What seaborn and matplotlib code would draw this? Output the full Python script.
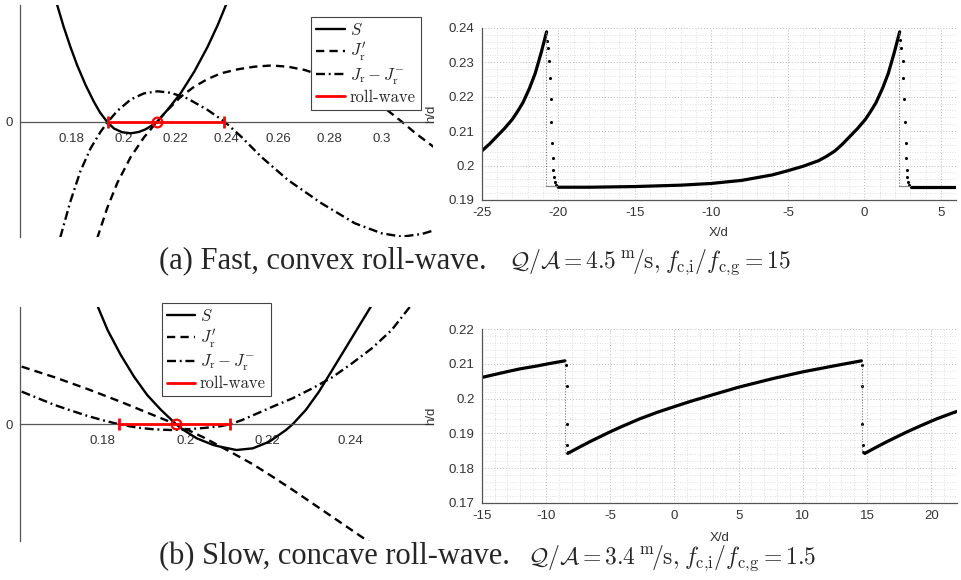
import matplotlib
matplotlib.use("Agg")
import matplotlib.pyplot as plt
from matplotlib.ticker import MultipleLocator
import seaborn as sns

sns.set_style("white")
plt.rcParams["font.family"] = ["Liberation Sans", "DejaVu Sans"]
plt.rcParams["mathtext.fontset"] = "cm"
plt.rcParams["axes.unicode_minus"] = False

# ---------------- (a) fast, convex roll-wave ----------------
# phase plane curves (vertical axis has no scale, only the zero line)
a_S_h = [0.1744, 0.1769, 0.1795, 0.1821, 0.1854, 0.1886, 0.1910, 0.1938, 0.1964, 0.1995, 0.2029,
         0.2060, 0.2085, 0.2108, 0.2130, 0.2171, 0.2223, 0.2275, 0.2327, 0.2366, 0.2398]
a_S_y = [1.17, 0.953, 0.753, 0.57, 0.37, 0.203, 0.095, 0.0, -0.065, -0.102, -0.113,
         -0.100, -0.075, -0.040, 0.0, 0.12, 0.29, 0.503, 0.753, 0.97, 1.17]
a_Jp_h = [0.1899, 0.1938, 0.1977, 0.2029, 0.2080, 0.2130, 0.2171, 0.2223, 0.2275, 0.2327, 0.2379, 0.2444,
          0.2508, 0.2573, 0.2638, 0.2703, 0.2742, 0.2807, 0.2872, 0.2936, 0.3014, 0.3079, 0.3131, 0.3208]
a_Jp_y = [-1.163, -0.859, -0.609, -0.349, -0.155, 0.0, 0.118, 0.253, 0.353, 0.43, 0.487, 0.527,
          0.553, 0.565, 0.553, 0.52, 0.487, 0.43, 0.355, 0.262, 0.137, 0.003, -0.11, -0.26]
a_J_h = [0.1756, 0.1795, 0.1834, 0.1873, 0.1912, 0.1940, 0.1977, 0.2029, 0.2080, 0.2133, 0.2184, 0.2249,
         0.2327, 0.2394, 0.2457, 0.2534, 0.2638, 0.2768, 0.2897, 0.3001, 0.3079, 0.3157, 0.3208]
a_J_y = [-1.155, -0.796, -0.492, -0.266, -0.098, 0.0, 0.111, 0.225, 0.286, 0.307, 0.292, 0.235,
         0.12, 0.0, -0.147, -0.347, -0.58, -0.813, -1.013, -1.113, -1.147, -1.12, -1.08]
a_roll = [0.1940, 0.2392]
a_crit = 0.2131

# wave profile h/d against X/d
a_w1_x = [-25, -24.5, -24, -23.5, -23, -22.67, -22.3, -21.87, -21.5, -21.1, -20.76]
a_w1_y = [0.2042, 0.2062, 0.2085, 0.2108, 0.2134, 0.2156, 0.2183, 0.2225, 0.2268, 0.2330, 0.2388]
a_w2_x = [-20.0, -18, -15, -12, -10, -8, -6, -5, -4, -3, -2.5, -1.94, -1.44, -0.94, -0.44,
          0.06, 0.39, 0.76, 1.19, 1.56, 1.96, 2.30]
a_w2_y = [0.1937, 0.1937, 0.1939, 0.1943, 0.1948, 0.1957, 0.1973, 0.1985, 0.1998, 0.2014, 0.2026, 0.2042,
          0.2062, 0.2085, 0.2108, 0.2134, 0.2156, 0.2183, 0.2225, 0.2268, 0.2330, 0.2388]
a_w3_x = [3.05, 6.0]
a_w3_y = [0.1937, 0.1937]
a_dots_x = [-20.72, -20.67, -20.61, -20.54, -20.50, -20.45, -20.41, -20.37, -20.32, -20.28, -20.24, -20.17,
            2.35, 2.41, 2.49, 2.54, 2.58, 2.63, 2.69, 2.71, 2.75, 2.80, 2.84, 2.91]
a_dots_y = [0.2362, 0.2340, 0.2304, 0.2253, 0.2192, 0.2127, 0.2066, 0.2021, 0.1987, 0.1968, 0.1953, 0.1943,
            0.2364, 0.2340, 0.2304, 0.2253, 0.2192, 0.2127, 0.2066, 0.2021, 0.1987, 0.1968, 0.1953, 0.1943]
a_shock_x = [-20.78, 2.27]
a_shock_end = [-20.1, 2.95]
a_shock_lo, a_shock_hi = 0.1941, 0.2388

# ---------------- (b) slow, concave roll-wave ----------------
b_S_h = [0.1788, 0.1812, 0.1844, 0.1876, 0.1908, 0.1940, 0.1978, 0.1996, 0.2028, 0.2068, 0.2084,
         0.2124, 0.2164, 0.2204, 0.2244, 0.2260, 0.2292, 0.2324, 0.2356, 0.2388, 0.2420, 0.2450]
b_S_y = [1.18, 0.943, 0.693, 0.477, 0.293, 0.15, 0.0, -0.057, -0.14, -0.207, -0.223,
         -0.257, -0.24, -0.173, -0.057, 0.0, 0.143, 0.327, 0.543, 0.76, 0.977, 1.18]
b_Jp_h = [0.1604, 0.1684, 0.1764, 0.1844, 0.1924, 0.1978, 0.2044, 0.2116, 0.2164, 0.2212, 0.2260,
          0.2308, 0.2356, 0.2404, 0.2450]
b_Jp_y = [0.577, 0.47, 0.352, 0.225, 0.09, 0.0, -0.13, -0.29, -0.40, -0.525, -0.655,
          -0.79, -0.925, -1.06, -1.19]
b_J_h = [0.1604, 0.1644, 0.1684, 0.1724, 0.1764, 0.1804, 0.1840, 0.1884, 0.1924, 0.1964, 0.2004, 0.2044,
         0.2084, 0.2108, 0.2136, 0.2164, 0.2212, 0.2260, 0.2308, 0.2356, 0.2404, 0.2452, 0.2500, 0.2545]
b_J_y = [0.327, 0.26, 0.193, 0.137, 0.083, 0.037, 0.0, -0.033, -0.05, -0.057, -0.05, -0.037,
         -0.02, 0.0, 0.04, 0.09, 0.177, 0.26, 0.36, 0.47, 0.61, 0.76, 0.943, 1.18]
b_roll = [0.1840, 0.2108]
b_crit = 0.1978

b_w1_x = [-15, -13.11, -12.0, -10.72, -9.6, -8.52]
b_w1_y = [0.2061, 0.2077, 0.2086, 0.2094, 0.2102, 0.2109]
b_w2_x = [-8.30, -7.5, -6.57, -5.02, -4.0, -2.68, -1.3, 0.0, 1.25, 2.51, 5.0, 7.69, 9.97, 12.36, 14.56]
b_w2_y = [0.1842, 0.1858, 0.1876, 0.1904, 0.1921, 0.1942, 0.1961, 0.1977, 0.1992, 0.2006, 0.2033, 0.2058,
          0.2077, 0.2094, 0.2109]
b_w3_x = [14.82, 15.62, 16.55, 18.10, 19.12, 20.44, 21.82, 22.0]
b_w3_y = [0.1842, 0.1858, 0.1876, 0.1904, 0.1921, 0.1942, 0.1961, 0.1963]
b_dots_x = [-8.44, -8.39, -8.36, -8.36, -8.31, 14.6, 14.62, 14.64, 14.65, 14.7]
b_dots_y = [0.2097, 0.2035, 0.1926, 0.1865, 0.1847, 0.2097, 0.2035, 0.1926, 0.1865, 0.1847]
b_shock_x = [-8.5, 14.58]
b_shock_lo, b_shock_hi = 0.1842, 0.2109

cap_a_text = "(a) Fast, convex roll-wave."
cap_a_math = r"$\mathcal{Q}/\mathcal{A}=4.5\,{}^{\mathrm{m}}\!/\mathrm{s}{,}\;f_{\mathrm{c{,}i}}/f_{\mathrm{c{,}g}}=15$"
cap_b_text = "(b) Slow, concave roll-wave."
cap_b_math = r"$\mathcal{Q}/\mathcal{A}=3.4\,{}^{\mathrm{m}}\!/\mathrm{s}{,}\;f_{\mathrm{c{,}i}}/f_{\mathrm{c{,}g}}=1.5$"

SPINE = "#555555"
LAB = "#333333"
DASH = (0, (3.5, 2.2))
DASHDOT = (0, (3.8, 1.6, 0.8, 1.6))


def phase_panel(ax, S, Jp, J, roll, crit, xlim, ylim, xticks, xlabels):
    sns.lineplot(x=S[0], y=S[1], sort=False, estimator=None, color="k", lw=1.7, ax=ax,
                 label=r"$S$", legend=False)
    sns.lineplot(x=Jp[0], y=Jp[1], sort=False, estimator=None, color="k", lw=1.7, linestyle=DASH,
                 ax=ax, label=r"$J_{\mathrm{r}}^{\prime}$", legend=False)
    sns.lineplot(x=J[0], y=J[1], sort=False, estimator=None, color="k", lw=1.7, linestyle=DASHDOT,
                 ax=ax, label=r"$J_{\mathrm{r}} - J_{\mathrm{r}}^{-}$", legend=False)
    sns.lineplot(x=roll, y=[0, 0], sort=False, estimator=None, color="red", lw=2, ax=ax,
                 label="roll-wave", legend=False, zorder=4)
    sns.lineplot(x=roll, y=[0, 0], sort=False, estimator=None, color="red", linestyle="none",
                 marker="|", markersize=9, markeredgewidth=2, markeredgecolor="red", ax=ax,
                 legend=False, zorder=4)
    sns.lineplot(x=[crit], y=[0], estimator=None, color="red", linestyle="none", marker="o",
                 markersize=7, markerfacecolor="none", markeredgecolor="red", markeredgewidth=1.6,
                 ax=ax, legend=False, zorder=5)
    ax.set_xlim(xlim)
    ax.set_ylim(ylim)
    for s in ["top", "right"]:
        ax.spines[s].set_visible(False)
    ax.spines["bottom"].set_position(("data", 0))
    for s in ["left", "bottom"]:
        ax.spines[s].set_color(SPINE)
        ax.spines[s].set_linewidth(0.9)
    ax.set_xticks(xticks)
    ax.set_xticklabels(xlabels)
    ax.set_yticks([0])
    ax.set_yticklabels(["0"])
    ax.tick_params(direction="in", length=4, width=0.8, colors=SPINE, labelcolor=LAB, labelsize=9.5)
    ax.tick_params(axis="x", pad=8)
    ax.tick_params(axis="y", pad=5)
    ax.set_xlabel("")
    ax.set_ylabel("")
    ax.patch.set_visible(False)


def wave_panel(ax, pieces, dots, shocks, xlim, ylim, xticks, yticks, xlab_y):
    for px, py in pieces:
        sns.lineplot(x=px, y=py, sort=False, estimator=None, color="k", lw=2.3, ax=ax, legend=False)
    sns.scatterplot(x=dots[0], y=dots[1], color="k", s=5, linewidth=0, ax=ax, legend=False)
    for sx, lo, hi, ex in shocks:
        sns.lineplot(x=[sx, sx], y=[lo, hi], sort=False, estimator=None, color="#777777", lw=0.8,
                     linestyle=(0, (1, 1.5)), ax=ax, legend=False)
        if ex is not None:
            sns.lineplot(x=[sx, ex], y=[lo, lo], sort=False, estimator=None, color="#888888", lw=0.9,
                         ax=ax, legend=False)
    ax.set_xlim(xlim)
    ax.set_ylim(ylim)
    ax.set_xticks(xticks)
    ax.set_xticklabels([str(t) for t in xticks])
    ax.set_yticks(yticks)
    ax.set_yticklabels([("%g" % t) for t in yticks])
    ax.xaxis.set_minor_locator(MultipleLocator(1))
    ax.yaxis.set_minor_locator(MultipleLocator(0.002))
    ax.grid(which="major", linestyle=(0, (1, 2)), color="#b8b8b8", lw=0.7)
    ax.grid(which="minor", linestyle=(0, (1, 2)), color="#d6d6d6", lw=0.6)
    ax.set_axisbelow(True)
    for s in ["top", "right"]:
        ax.spines[s].set_visible(False)
    for s in ["left", "bottom"]:
        ax.spines[s].set_color(SPINE)
        ax.spines[s].set_linewidth(0.9)
    ax.tick_params(which="major", direction="in", length=4, width=0.8, colors=SPINE,
                   labelcolor=LAB, labelsize=9.5, pad=5)
    ax.tick_params(which="minor", length=0)
    ax.set_xlabel("X/d", fontsize=9.5, color=LAB)
    ax.set_ylabel("h/d", fontsize=9.5, color=LAB)
    ax.xaxis.set_label_coords(0.5, xlab_y)
    ax.yaxis.set_label_coords(-0.094, 0.5)


fig = plt.figure(figsize=(9.62, 5.8), dpi=100)

ax1 = fig.add_axes([0.0208, 0.5914, 0.4293, 0.4000])
phase_panel(ax1, (a_S_h, a_S_y), (a_Jp_h, a_Jp_y), (a_J_h, a_J_y), a_roll, a_crit,
            (0.16, 0.32), (-1.15, 1.17),
            [0.18, 0.20, 0.22, 0.24, 0.26, 0.28, 0.30],
            ["0.18", "0.2", "0.22", "0.24", "0.26", "0.28", "0.3"])
leg_kw = dict(prop={"family": "cmr10", "size": 12}, frameon=True, fancybox=False, framealpha=1,
              edgecolor="#444444", borderaxespad=0, handlelength=1.7, handletextpad=0.3,
              labelspacing=0.18, borderpad=0.3)
l1 = ax1.legend(loc="upper right", bbox_to_anchor=(0.970, 0.9496), **leg_kw)
l1.get_frame().set_linewidth(0.8)

ax2 = fig.add_axes([0.5007, 0.6552, 0.4934, 0.2970])
wave_panel(ax2, [(a_w1_x, a_w1_y), (a_w2_x, a_w2_y), (a_w3_x, a_w3_y)], (a_dots_x, a_dots_y),
           [(a_shock_x[0], a_shock_lo, a_shock_hi, a_shock_end[0]),
            (a_shock_x[1], a_shock_lo, a_shock_hi, a_shock_end[1])],
           (-25, 6), (0.19, 0.24), [-25, -20, -15, -10, -5, 0, 5],
           [0.19, 0.20, 0.21, 0.22, 0.23, 0.24], -0.157)

ax3 = fig.add_axes([0.0208, 0.0672, 0.4293, 0.4040])
phase_panel(ax3, (b_S_h, b_S_y), (b_Jp_h, b_Jp_y), (b_J_h, b_J_y), b_roll, b_crit,
            (0.16, 0.26), (-1.167, 1.176),
            [0.18, 0.20, 0.22, 0.24], ["0.18", "0.2", "0.22", "0.24"])
l3 = ax3.legend(loc="upper left", bbox_to_anchor=(0.343, 1.0145), **leg_kw)
l3.get_frame().set_linewidth(0.8)

ax4 = fig.add_axes([0.5007, 0.1333, 0.4941, 0.2990])
wave_panel(ax4, [(b_w1_x, b_w1_y), (b_w2_x, b_w2_y), (b_w3_x, b_w3_y)], (b_dots_x, b_dots_y),
           [(b_shock_x[0], b_shock_lo, b_shock_hi, None),
            (b_shock_x[1], b_shock_lo, b_shock_hi, None)],
           (-15, 22), (0.17, 0.22), [-15, -10, -5, 0, 5, 10, 15, 20],
           [0.17, 0.18, 0.19, 0.20, 0.21, 0.22], -0.170)

# captions: Times-like text plus Computer Modern maths
fig.text(159 / 962, 1 - 268 / 580, cap_a_text, ha="left", va="baseline", fontsize=22,
         family="Liberation Serif")
fig.text(509 / 962, 1 - 268 / 580, cap_a_math, ha="left", va="baseline", fontsize=17)
fig.text(159 / 962, 1 - 564 / 580, cap_b_text, ha="left", va="baseline", fontsize=22,
         family="Liberation Serif")
fig.text(528 / 962, 1 - 564 / 580, cap_b_math, ha="left", va="baseline", fontsize=17)

fig.savefig("out.png", dpi=100)
